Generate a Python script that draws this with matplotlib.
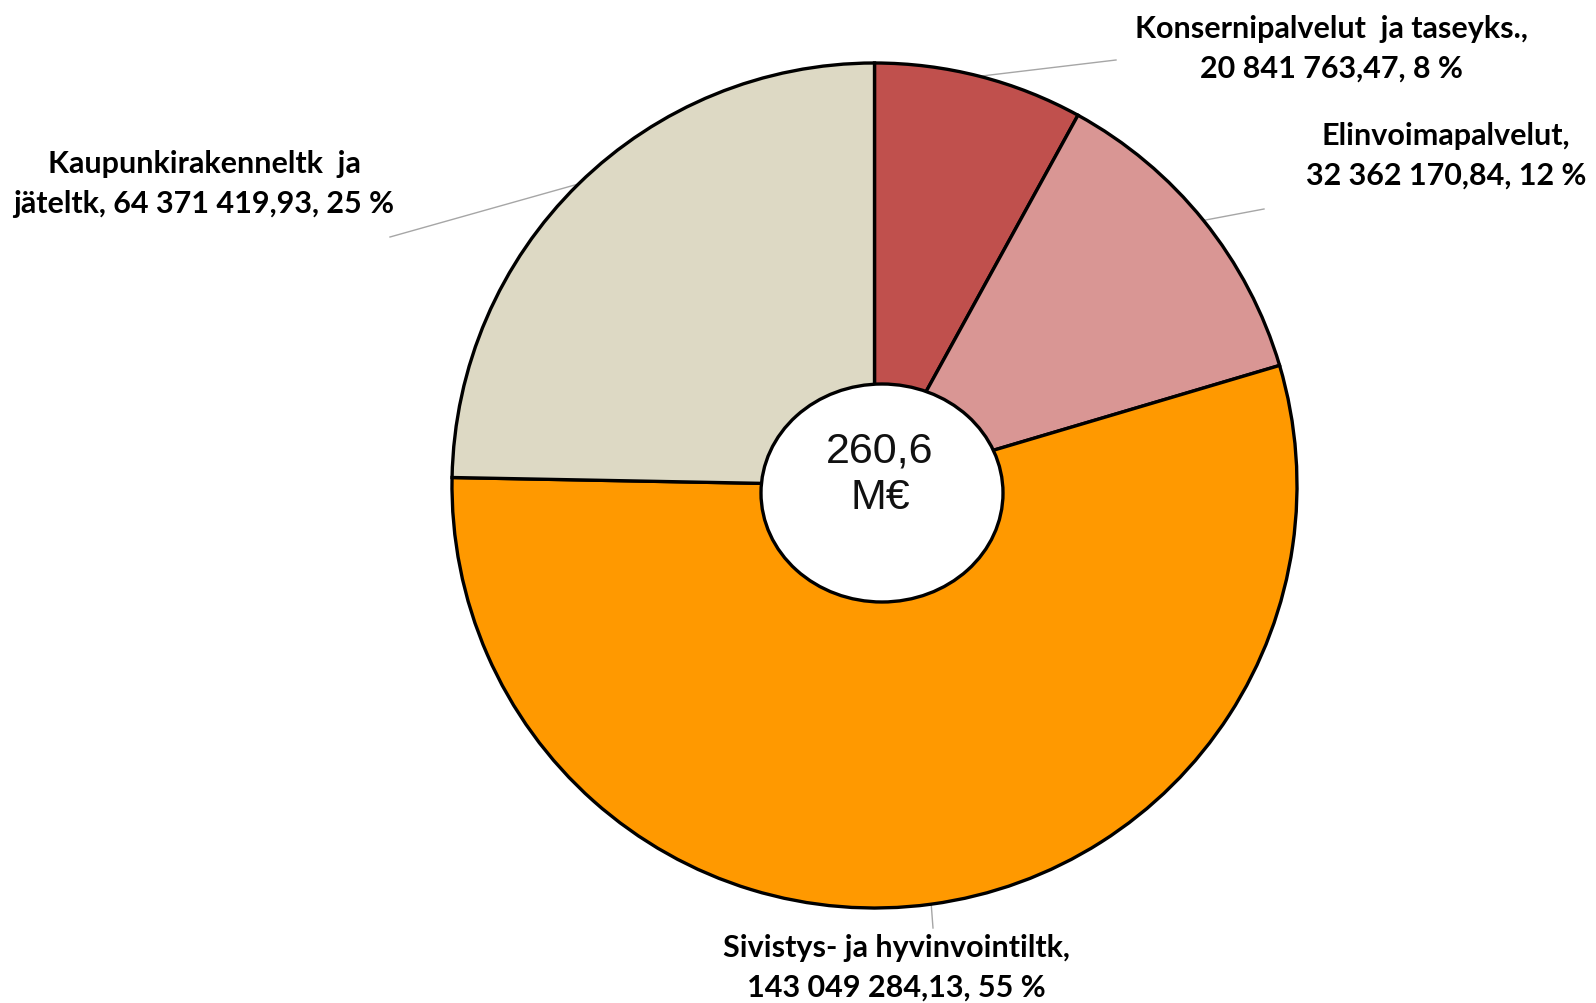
import matplotlib
matplotlib.use("Agg")
import matplotlib.pyplot as plt
from matplotlib.patches import Ellipse
import numpy as np

# Budget by sector (EUR)
categories = [
    "Konsernipalvelut  ja taseyks.",
    "Elinvoimapalvelut",
    "Sivistys- ja hyvinvointiltk",
    "Kaupunkirakenneltk  ja\njäteltk",
]
values = [20841763.47, 32362170.84, 143049284.13, 64371419.93]
colors = ["#C0504D", "#D99694", "#FF9900", "#DDD9C4"]
# separator between the name and the figures in each label
label_seps = [",\n", ",\n", ",\n", ", "]

W, H = 1596, 1004


def fi_number(v):
    return f"{v:,.2f}".replace(",", " ").replace(".", ",")


fig = plt.figure(figsize=(W / 100, H / 100), dpi=100)
ax = fig.add_axes([0, 0, 1, 1])

center = (874.5, H - 486.5)
radius = 422.5
wedges, _ = ax.pie(
    values, colors=colors, startangle=90, counterclock=False,
    center=center, radius=radius,
    wedgeprops=dict(edgecolor="black", linewidth=2.4),
)
for w in wedges:
    w.set_zorder(2)

ax.set_xlim(0, W)
ax.set_ylim(0, H)
ax.set_aspect("equal")
ax.axis("off")

total = sum(values)

# label anchor (text centre) and leader-line end, in pixels from the top-left
label_pos = [(1331, 49), (1446, 156), (896, 968), (204, 184)]
leader_end = [(1116, 61), (1264, 210), (933, 929), (390, 238)]

label_font = dict(family=["Lato", "DejaVu Sans"], fontweight="bold",
                  fontsize=22, color="black")

for w, name, v, sep, (lx, ly), (ex, ey) in zip(
        wedges, categories, values, label_seps, label_pos, leader_end):
    pct = round(v / total * 100)
    text = f"{name}{sep}{fi_number(v)}, {pct} %"
    ax.text(lx, H - ly, text, ha="center", va="center",
            linespacing=1.5, **label_font)
    mid = np.deg2rad((w.theta1 + w.theta2) / 2)
    sx = center[0] + radius * np.cos(mid)
    sy = center[1] + radius * np.sin(mid)
    ax.plot([sx, ex], [sy, H - ey], color="#A6A6A6", lw=1.0, zorder=1)

# white centre with the total
hole = Ellipse((882, H - 494), 242, 218, facecolor="white",
               edgecolor="black", linewidth=2.4, zorder=3)
ax.add_patch(hole)
total_txt = f"{total / 1e6:.1f}".replace(".", ",") + "\nM€"
ax.text(880, H - 475, total_txt, ha="center", va="center",
        family=["Liberation Sans", "DejaVu Sans"], fontsize=31,
        color="#111111", linespacing=1.22, zorder=4)

fig.savefig("out.png", dpi=100, facecolor="white")
